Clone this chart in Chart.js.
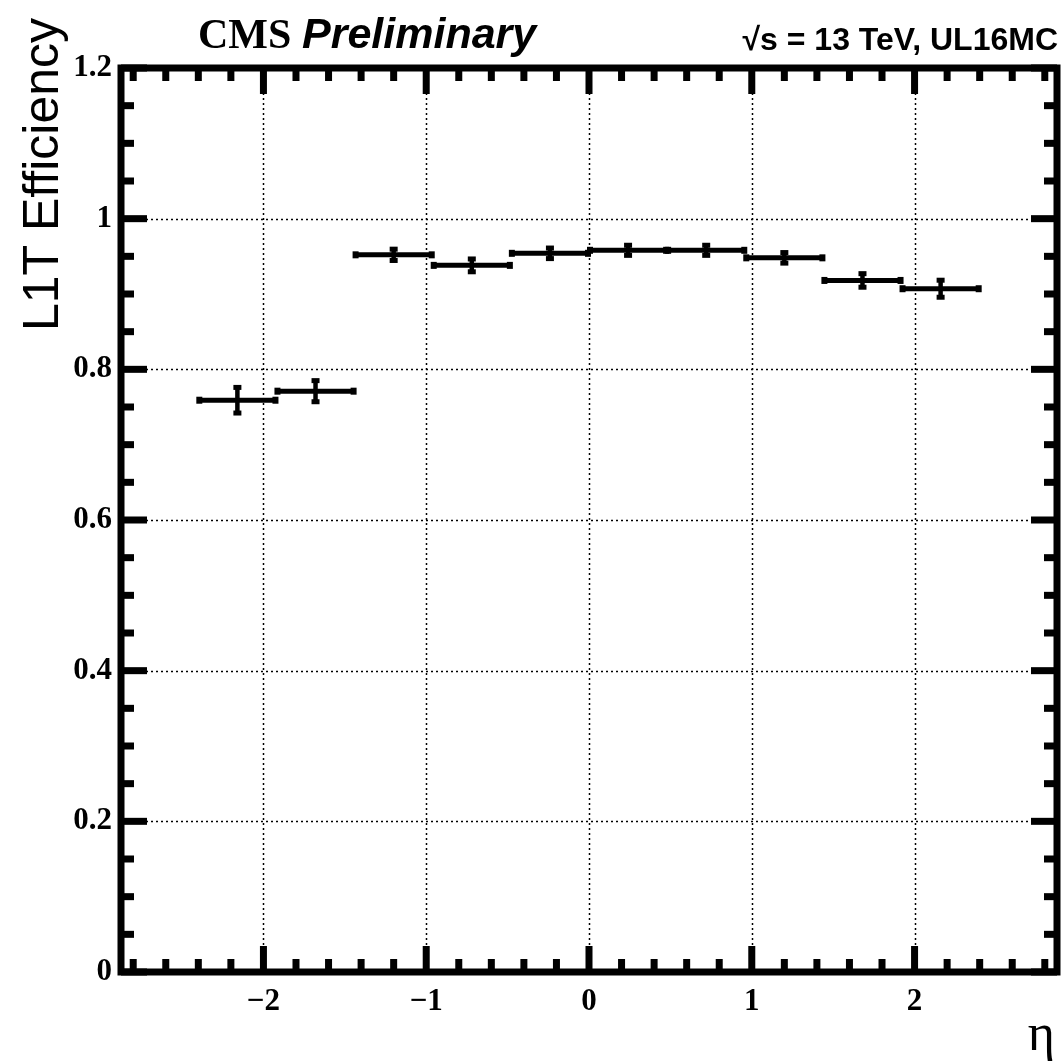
<!DOCTYPE html>
<html><head><meta charset="utf-8">
<script src="https://cdn.jsdelivr.net/npm/chart.js@4.4.0/dist/chart.umd.min.js"></script>
<style>html,body{margin:0;padding:0;background:#fff;}#wrap{width:1064px;height:1062px;position:relative;}</style>
</head><body><div id="wrap"><canvas id="c" width="1064" height="1062"></canvas></div>
<script>
// ---- data ----
const etaCenters   = [-2.16, -1.68, -1.20, -0.72, -0.24, 0.24, 0.72, 1.20, 1.68, 2.16];
const etaHalfWidth = [0.24, 0.24, 0.24, 0.24, 0.24, 0.24, 0.24, 0.24, 0.24, 0.24];
const efficiency   = [0.759, 0.771, 0.952, 0.938, 0.954, 0.958, 0.958, 0.948, 0.918, 0.907];
const effErrLow    = [0.017, 0.014, 0.0075, 0.0085, 0.007, 0.0067, 0.0067, 0.007, 0.009, 0.0113];
const effErrHigh   = [0.017, 0.014, 0.0075, 0.0085, 0.007, 0.0067, 0.0067, 0.007, 0.009, 0.0113];

const xTickValues = [-2, -1, 0, 1, 2];
const xTickLabels = ['\u22122', '\u22121', '0', '1', '2'];
const yTickValues = [0, 0.2, 0.4, 0.6, 0.8, 1.0, 1.2];
const yTickLabels = ['0', '0.2', '0.4', '0.6', '0.8', '1', '1.2'];
const xMinorStep = 0.2;
const yMinorStep = 0.05;

const xTitle = '\u03b7';
const yTitle = 'L1T Efficiency';
const cmsLabel = 'CMS';
const prelimLabel = 'Preliminary';
const energyLabel = '\u221as = 13 TeV, UL16MC';

const points = etaCenters.map((x, i) => ({x: x, y: efficiency[i]}));

function labelFor(values, labels, v) {
  const i = values.findIndex(t => Math.abs(t - v) < 1e-9);
  return i >= 0 ? labels[i] : '';
}

const rootStyle = {
  id: 'rootStyle',
  beforeDatasetsDraw(chart) {
    const {ctx, chartArea: a, scales: {x, y}} = chart;
    ctx.save();
    ctx.strokeStyle = '#000';
    ctx.lineWidth = 1.5;
    ctx.setLineDash([2, 3]);
    xTickValues.forEach(v => {
      const px = Math.round(x.getPixelForValue(v)) + 0.5;
      ctx.beginPath(); ctx.moveTo(px, a.top); ctx.lineTo(px, a.bottom); ctx.stroke();
    });
    yTickValues.forEach(v => {
      if (v <= y.min || v >= y.max) return;
      const py = Math.round(y.getPixelForValue(v)) + 0.5;
      ctx.beginPath(); ctx.moveTo(a.left, py); ctx.lineTo(a.right, py); ctx.stroke();
    });
    ctx.restore();
  },
  afterDatasetsDraw(chart) {
    const {ctx, chartArea: a, scales: {x, y}} = chart;
    ctx.save();
    ctx.fillStyle = '#000';
    ctx.strokeStyle = '#000';
    // error bars
    etaCenters.forEach((xc, i) => {
      const px = x.getPixelForValue(xc);
      const py = y.getPixelForValue(efficiency[i]);
      const x1 = x.getPixelForValue(xc - etaHalfWidth[i]);
      const x2 = x.getPixelForValue(xc + etaHalfWidth[i]);
      const y1 = y.getPixelForValue(efficiency[i] + effErrHigh[i]);
      const y2 = y.getPixelForValue(efficiency[i] - effErrLow[i]);
      ctx.lineWidth = 5;
      ctx.beginPath(); ctx.moveTo(x1, py); ctx.lineTo(x2, py); ctx.stroke();
      ctx.lineWidth = 4.5;
      ctx.beginPath(); ctx.moveTo(px, y1); ctx.lineTo(px, y2); ctx.stroke();
      ctx.fillRect(x1 - 2, py - 3.5, 6, 7);
      ctx.fillRect(x2 - 4, py - 3.5, 6, 7);
      ctx.fillRect(px - 4, y1 - 2.5, 8, 5);
      ctx.fillRect(px - 4, y2 - 2.5, 8, 5);
    });
    // tick marks (inside, all four sides)
    const tw = 7, minorLen = 13, majorLen = 26;
    const xStart = Math.ceil(x.min / xMinorStep) * xMinorStep;
    for (let v = xStart; v <= x.max + 1e-9; v += xMinorStep) {
      const vr = Math.round(v * 100) / 100;
      const isMajor = Math.abs(vr - Math.round(vr)) < 1e-6;
      const len = isMajor ? majorLen : minorLen;
      const px = x.getPixelForValue(vr);
      ctx.fillRect(px - tw / 2, a.bottom - len, tw, len);
      ctx.fillRect(px - tw / 2, a.top, tw, len);
    }
    for (let v = y.min; v <= y.max + 1e-9; v += yMinorStep) {
      const vr = Math.round(v * 1000) / 1000;
      const isMajor = yTickValues.some(t => Math.abs(t - vr) < 1e-6);
      const len = isMajor ? majorLen : minorLen;
      const py = y.getPixelForValue(vr);
      ctx.fillRect(a.left, py - tw / 2, len, tw);
      ctx.fillRect(a.right - len, py - tw / 2, len, tw);
    }
    // frame
    ctx.lineWidth = 7;
    ctx.setLineDash([]);
    ctx.strokeRect(a.left, a.top, a.right - a.left, a.bottom - a.top);
    ctx.restore();
  },
  afterDraw(chart) {
    const {ctx} = chart;
    ctx.save();
    ctx.fillStyle = '#000';
    // y title
    ctx.save();
    ctx.translate(58, 18);
    ctx.rotate(-Math.PI / 2);
    ctx.font = '50px "Liberation Sans"';
    ctx.textAlign = 'right';
    ctx.textBaseline = 'alphabetic';
    ctx.fillText(yTitle, 0, 0);
    ctx.restore();
    // x title
    ctx.font = '52px "Liberation Serif"';
    ctx.textAlign = 'right';
    ctx.textBaseline = 'alphabetic';
    ctx.fillText(xTitle, 1055, 1050);
    // header
    ctx.textAlign = 'left';
    ctx.font = 'bold 42px "Liberation Serif"';
    ctx.fillText(cmsLabel, 198, 48);
    ctx.font = 'italic bold 43px "Liberation Sans"';
    ctx.fillText(prelimLabel, 302, 48);
    ctx.textAlign = 'right';
    ctx.font = 'bold 32px "Liberation Sans"';
    ctx.fillText(energyLabel, 1058, 50);
    ctx.restore();
  }
};

new Chart(document.getElementById('c'), {
  type: 'scatter',
  data: {
    datasets: [{
      label: 'L1T Efficiency',
      data: points,
      pointRadius: 0,
      pointHoverRadius: 0,
      showLine: false,
      borderColor: '#000',
      backgroundColor: '#000'
    }]
  },
  options: {
    responsive: false,
    animation: false,
    devicePixelRatio: 1,
    layout: {padding: {top: 68, right: 7, left: 0, bottom: 0}},
    plugins: {legend: {display: false}, tooltip: {enabled: false}, title: {display: false}},
    scales: {
      x: {
        type: 'linear', min: -2.875, max: 2.875,
        afterFit: s => { s.height = 90; },
        afterBuildTicks: s => { s.ticks = xTickValues.map(v => ({value: v})); },
        grid: {display: false, drawTicks: false},
        border: {display: false},
        ticks: {
          autoSkip: false, maxRotation: 0, padding: 11, color: '#000',
          font: {family: 'Liberation Serif', weight: 'bold', size: 31},
          callback: v => labelFor(xTickValues, xTickLabels, v)
        }
      },
      y: {
        type: 'linear', min: 0, max: 1.2,
        afterFit: s => { s.width = 121; },
        afterBuildTicks: s => { s.ticks = yTickValues.map(v => ({value: v})); },
        grid: {display: false, drawTicks: false},
        border: {display: false},
        ticks: {
          autoSkip: false, padding: 9, color: '#000',
          font: {family: 'Liberation Serif', weight: 'bold', size: 31},
          callback: v => labelFor(yTickValues, yTickLabels, v)
        }
      }
    }
  },
  plugins: [rootStyle]
});
</script></body></html>
